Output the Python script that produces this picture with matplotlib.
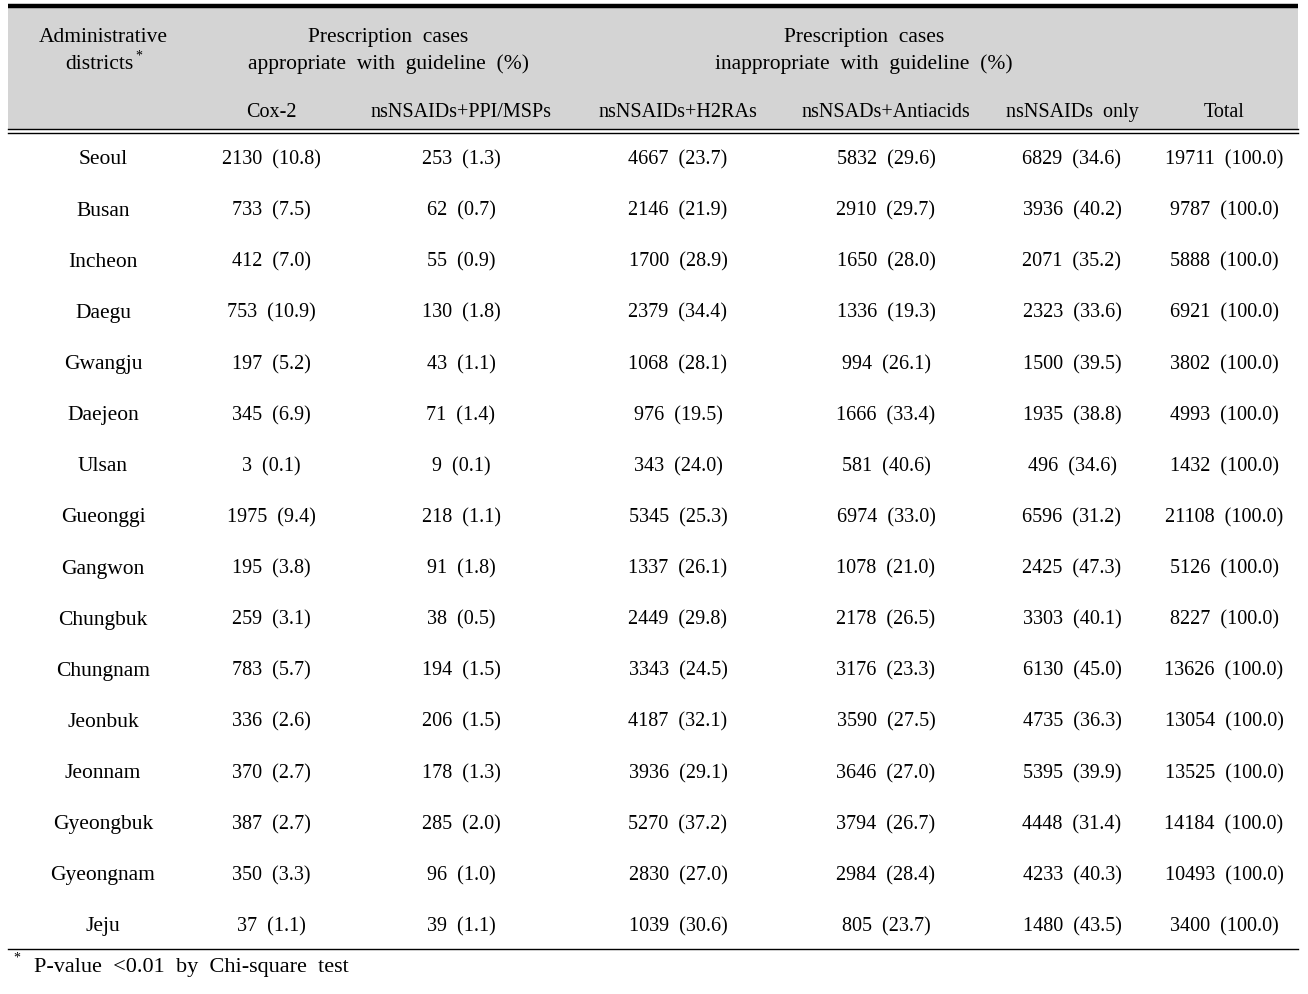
import matplotlib
matplotlib.use("Agg")
import matplotlib.pyplot as plt
from matplotlib.patches import Rectangle

plt.rcParams['font.family'] = ['Liberation Serif', 'DejaVu Serif']

districts = ["Seoul", "Busan", "Incheon", "Daegu", "Gwangju", "Daejeon", "Ulsan",
             "Gueonggi", "Gangwon", "Chungbuk", "Chungnam", "Jeonbuk", "Jeonnam",
             "Gyeongbuk", "Gyeongnam", "Jeju"]
sub_headers = ["Cox-2", "nsNSAIDs+PPI/MSPs", "nsNSAIDs+H2RAs", "nsNSADs+Antiacids",
               "nsNSAIDs  only", "Total"]

cox2_n = [2130, 733, 412, 753, 197, 345, 3, 1975, 195, 259, 783, 336, 370, 387, 350, 37]
cox2_p = [10.8, 7.5, 7.0, 10.9, 5.2, 6.9, 0.1, 9.4, 3.8, 3.1, 5.7, 2.6, 2.7, 2.7, 3.3, 1.1]
ppi_n = [253, 62, 55, 130, 43, 71, 9, 218, 91, 38, 194, 206, 178, 285, 96, 39]
ppi_p = [1.3, 0.7, 0.9, 1.8, 1.1, 1.4, 0.1, 1.1, 1.8, 0.5, 1.5, 1.5, 1.3, 2.0, 1.0, 1.1]
h2ra_n = [4667, 2146, 1700, 2379, 1068, 976, 343, 5345, 1337, 2449, 3343, 4187, 3936, 5270, 2830, 1039]
h2ra_p = [23.7, 21.9, 28.9, 34.4, 28.1, 19.5, 24.0, 25.3, 26.1, 29.8, 24.5, 32.1, 29.1, 37.2, 27.0, 30.6]
anti_n = [5832, 2910, 1650, 1336, 994, 1666, 581, 6974, 1078, 2178, 3176, 3590, 3646, 3794, 2984, 805]
anti_p = [29.6, 29.7, 28.0, 19.3, 26.1, 33.4, 40.6, 33.0, 21.0, 26.5, 23.3, 27.5, 27.0, 26.7, 28.4, 23.7]
only_n = [6829, 3936, 2071, 2323, 1500, 1935, 496, 6596, 2425, 3303, 6130, 4735, 5395, 4448, 4233, 1480]
only_p = [34.6, 40.2, 35.2, 33.6, 39.5, 38.8, 34.6, 31.2, 47.3, 40.1, 45.0, 36.3, 39.9, 31.4, 40.3, 43.5]
total_n = [19711, 9787, 5888, 6921, 3802, 4993, 1432, 21108, 5126, 8227, 13626, 13054, 13525, 14184, 10493, 3400]
total_p = [100.0] * 16

W, H = 1308, 994
fig = plt.figure(figsize=(W / 100, H / 100), dpi=100)
ax = fig.add_axes([0, 0, 1, 1])
ax.set_xlim(0, W)
ax.set_ylim(H, 0)
ax.axis("off")

fs_word = 15.5   # words look a bit wider in the source
fs_num = 14.5
x0, x1 = 8, 1298
kw_w = dict(ha="center", va="baseline", fontsize=fs_word)
kw_n = dict(ha="center", va="baseline", fontsize=fs_num)

# header background and rules
ax.add_patch(Rectangle((x0, 7), x1 - x0, 122, color="#d4d4d4", lw=0))
ax.plot([x0, x1], [6, 6], color="black", lw=3.2, solid_capstyle="butt")
ax.plot([x0, x1], [129, 129], color="black", lw=1.0)
ax.plot([x0, x1], [132.5, 132.5], color="black", lw=1.0)
ax.plot([x0, x1], [949, 949], color="black", lw=1.0)

# header text
ax.text(103, 42, "Administrative", **kw_w)
ax.text(99, 69, "districts", **kw_w)
ax.text(139, 60, "*", ha="center", va="baseline", fontsize=10)
ax.text(388, 42, "Prescription  cases", **kw_w)
ax.text(388, 69, "appropriate  with  guideline  (%)", **kw_w)
ax.text(864, 42, "Prescription  cases", **kw_w)
ax.text(864, 69, "inappropriate  with  guideline  (%)", **kw_w)

col_x = [271, 461, 678, 886, 1072, 1224]
for cx, lab in zip(col_x, sub_headers):
    ax.text(cx, 117, lab, **kw_n)

series = [(cox2_n, cox2_p), (ppi_n, ppi_p), (h2ra_n, h2ra_p),
          (anti_n, anti_p), (only_n, only_p), (total_n, total_p)]

y_first, dy = 164.5, 51.13
for i, d in enumerate(districts):
    y = y_first + i * dy
    ax.text(103, y, d, **kw_w)
    for cx, (ns, ps) in zip(col_x, series):
        ax.text(cx, y, f"{ns[i]}  ({ps[i]:.1f})", **kw_n)

# footnote
ax.text(17, 962, "*", ha="center", va="baseline", fontsize=10)
ax.text(34, 972, "P-value  <0.01  by  Chi-square  test", ha="left", va="baseline", fontsize=16)

fig.savefig("out.png", dpi=100, facecolor="white")
